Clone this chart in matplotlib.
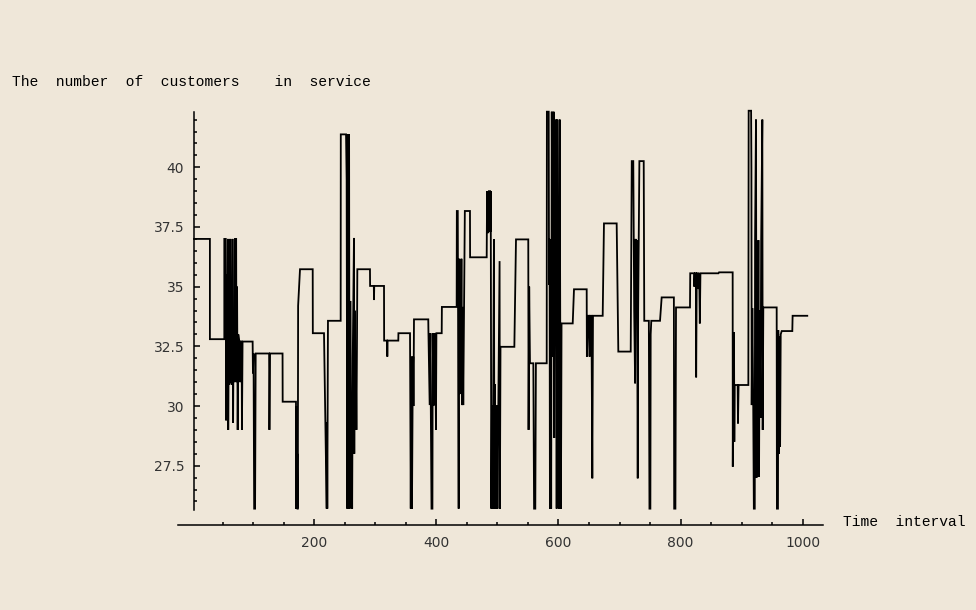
import matplotlib
matplotlib.use('Agg')
import matplotlib.pyplot as plt
from matplotlib.ticker import FixedLocator, FixedFormatter

# breakpoints of the simulated path (time, customers in service)
t_vals = [
    3, 29, 29, 52.6, 52.6, 55, 55.5, 56.5, 57.5, 58.5, 59, 60, 61, 62, 63, 64, 65, 66, 67, 68,
    69, 70, 72, 72.5, 73.5, 74.5, 75.5, 77, 78, 78.5, 79.5, 81, 81.5, 82.5, 99, 99.5, 100.5,
    101.5, 103, 104, 126, 126.5, 127.5, 148, 148.2, 170, 170.3, 171, 171.3, 172, 172.5, 173,
    173.5, 176.6, 197.4, 197.6, 215.9, 220.3, 220.8, 221.3, 222.4, 243.2, 243.4, 252, 253, 254,
    255, 256, 257, 257.5, 258, 259, 260, 261, 262, 263, 265, 265.5, 266, 267, 268, 269, 270,
    270.5, 291.2, 291.4, 297.5, 297.8, 298.2, 314.2, 314.4, 319.3, 319.6, 320, 337.6, 337.8,
    356.8, 358, 359, 360, 361, 362, 362.5, 363.3, 386.7, 387, 389, 390, 392, 393.5, 394, 395,
    396, 397, 398, 399.3, 400, 408.7, 409, 433.2, 433.5, 435, 436, 436.5, 437, 438, 439, 440,
    441, 442, 443, 444, 446.6, 455, 455.2, 482.4, 482.6, 483, 485, 486, 488, 488.5, 489, 490,
    491, 492, 493, 494.3, 495, 496, 497, 499, 500, 503.5, 504, 505, 527.7, 530.4, 550.5, 551,
    552, 553.3, 558.8, 560, 562, 563, 580.7, 581, 584, 584.5, 585, 585.5, 586, 587, 588, 589,
    590, 591, 592, 593, 594, 596, 597, 598, 600, 601, 602, 603, 604, 605, 623.3, 625.4, 646.2,
    646.5, 648.8, 650, 651, 652, 654, 655.4, 656.5, 672.4, 674.5, 695.3, 698, 718.3, 720,
    722.5, 723, 724, 725.5, 726.5, 727.5, 728.5, 729.8, 730.5, 731.5, 732.5, 739.6, 740.5,
    748, 749, 750.5, 751, 752, 766.3, 769, 789, 789.5, 791.5, 792.5, 815.4, 815.8, 822, 822.5,
    823.5, 825, 825.5, 826.5, 829, 829.5, 830.5, 831.5, 832.5, 862, 863, 885.3, 885.5, 886.5,
    887, 887.5, 888, 888.6, 893.5, 894, 895, 911, 911.5, 915.5, 916, 916.5, 917.5, 919, 920,
    921.5, 922, 923.5, 924.5, 925.5, 926.5, 927.5, 928.5, 929.5, 931, 932, 933.9, 934.5, 935.5,
    957.4, 957.8, 959.5, 960, 961, 962, 963, 964, 965.6, 983, 983.5, 1007.5,
]
n_vals = [
    37.0, 37.0, 32.8, 32.8, 37.0, 37.0, 29.4, 35.5, 30.0, 37.0, 29.0, 34.0, 30.9, 37.0, 31.0, 35.2, 30.9, 37.0, 29.3, 34.0,
    31.0, 37.0, 37.0, 31.0, 35.0, 29.0, 33.0, 32.7, 32.7, 31.0, 32.7, 32.7, 29.0, 32.7, 32.7, 31.37, 32.2,
    25.7, 25.7, 32.2, 32.2, 29.0, 32.2, 32.2, 30.18, 30.18, 25.7, 30.0, 25.7, 28.0, 25.7, 25.7,
    34.2, 35.73, 35.73, 33.05, 33.05, 25.7, 29.3, 25.7, 33.57, 33.57, 41.38, 41.38, 39.47, 25.7,
    41.38, 25.7, 41.38, 30.0, 25.7, 34.4, 29.7, 30.3, 25.7, 32.0, 37.04, 28.0, 34.0, 30.5, 32.07, 29.0, 33.0,
    35.73, 35.73, 35.03, 35.03, 34.44, 35.03, 35.03, 32.74, 32.74, 32.07, 32.74, 32.74, 33.05,
    33.05, 25.7, 32.07, 25.7, 30.04, 32.07, 30.0, 33.63, 33.63, 33.05, 30.04, 33.05, 25.7, 25.7, 33.05, 30.0,
    33.05, 30.04, 33.05, 29.0, 33.05, 33.05, 34.15, 34.15, 38.17, 38.17, 30.0, 25.7, 36.17, 30.5, 34.2, 31.0,
    36.17, 30.04, 34.15, 30.04, 38.17, 38.17, 36.23, 36.23, 37.24, 39.0, 37.24, 39.0, 39.0, 37.3, 39.0, 25.7,
    30.04, 25.7, 30.04, 36.98, 25.7, 30.92, 25.7, 30.04, 25.7, 36.07, 25.7, 32.48, 32.48, 36.98, 36.98, 29.0,
    35.0, 31.79, 31.79, 25.7, 25.7, 31.79, 31.79, 42.33, 42.33, 35.07, 37.0, 35.07, 25.7, 36.98, 25.7, 42.33,
    35.07, 32.07, 42.33, 28.66, 35.0, 42.0, 25.7, 42.0, 33.5, 25.7, 42.0, 32.07, 25.7, 33.46, 33.46, 34.89, 34.89,
    32.07, 33.78, 33.78, 32.07, 33.78, 33.78, 26.97, 33.78, 33.78, 37.65, 37.65, 32.28, 32.28, 40.26,
    40.26, 37.9, 34.0, 30.95, 37.0, 34.0, 36.95, 26.97, 34.0, 36.95, 40.26, 40.26, 33.57,
    33.57, 25.7, 25.7, 33.0, 33.57, 33.57, 34.55, 34.55, 25.7, 25.7, 34.13, 34.13, 35.56, 35.56, 35.0,
    35.56, 35.56, 31.2, 35.56, 35.56, 34.9, 35.56, 33.46, 35.56, 35.56, 35.6, 35.6, 27.46, 33.1,
    29.2, 33.1, 28.5, 30.88, 30.88, 29.27, 30.88, 30.88, 42.37, 42.37, 39.96, 30.04, 34.1, 30.0, 25.7,
    25.7, 36.95, 42.0, 27.0, 34.0, 30.1, 36.95, 27.04, 34.0, 29.5, 36.95, 42.0, 29.0, 34.13,
    34.13, 25.7, 25.7, 33.18, 28.0, 32.9, 28.3, 33.0, 33.14, 33.14, 33.78, 33.78,
]

x_major = [200, 400, 600, 800, 1000]
x_minor = [50, 100, 150, 250, 300, 350, 450, 500, 550, 650, 700, 750, 850, 900, 950]
y_major = [27.5, 30, 32.5, 35, 37.5, 40]
y_labels = ['27.5', '30', '32.5', '35', '37.5', '40']
y_minor = [v / 2 for v in range(52, 85) if v % 5 != 0]

bg = '#efe7d9'

fig = plt.figure(figsize=(9.76, 6.1), dpi=100, facecolor=bg)
ax = fig.add_axes([0.1719, 0.1192, 0.6818, 0.7239])
ax.set_facecolor(bg)

ax.plot(t_vals, n_vals, color='black', linewidth=1.3, solid_joinstyle='miter')

ax.set_xlim(-40, 1050)
ax.set_ylim(24.5, 43)

# Mathematica style axes: crossing lines, ticks pointing inward
ax.spines['top'].set_visible(False)
ax.spines['right'].set_visible(False)
ax.spines['left'].set_position(('data', 3))
ax.spines['left'].set_bounds(25.64, 42.33)
ax.spines['bottom'].set_position(('data', 25.0))
ax.spines['bottom'].set_bounds(-23, 1033)
for s in ['left', 'bottom']:
    ax.spines[s].set_linewidth(1.1)

ax.xaxis.set_major_locator(FixedLocator(x_major))
ax.xaxis.set_minor_locator(FixedLocator(x_minor))
ax.yaxis.set_major_locator(FixedLocator(y_major))
ax.yaxis.set_major_formatter(FixedFormatter(y_labels))
ax.yaxis.set_minor_locator(FixedLocator(y_minor))

ax.tick_params(axis='both', which='major', direction='in', length=4, width=1.1,
               labelsize=10, colors='black')
ax.tick_params(axis='both', which='minor', direction='in', length=2.5, width=1.1)
ax.tick_params(axis='x', pad=8)
ax.tick_params(axis='y', pad=7)
for lab in ax.get_xticklabels() + ax.get_yticklabels():
    lab.set_color('#333333')

fig.text(12 / 976, 1 - 82 / 610, 'The  number  of  customers    in  service',
         family='Liberation Mono', fontsize=10.5, ha='left', va='center')
fig.text(843 / 976, 1 - 522 / 610, 'Time  interval',
         family='Liberation Mono', fontsize=10.5, ha='left', va='center')

fig.savefig('out.png', dpi=100, facecolor=bg)
